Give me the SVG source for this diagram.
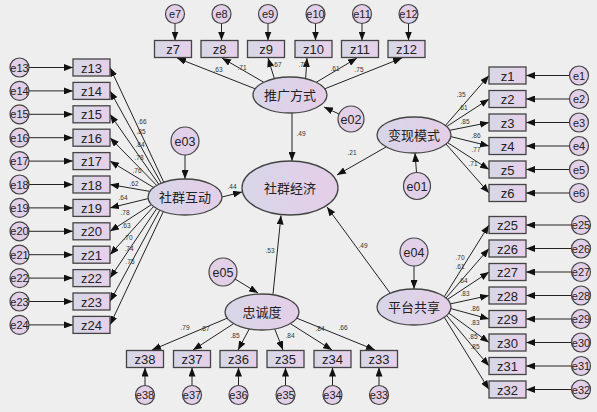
<svg xmlns="http://www.w3.org/2000/svg" width="597" height="412" viewBox="0 0 597 412">
<defs>
<linearGradient id="g" x1="0" y1="0" x2="1" y2="0">
<stop offset="0" stop-color="#d6d8e6"/>
<stop offset="1" stop-color="#e6d0ea"/>
</linearGradient>
<linearGradient id="ge" x1="0" y1="0" x2="1" y2="0">
<stop offset="0" stop-color="#d8d6e8"/>
<stop offset="1" stop-color="#e4cee8"/>
</linearGradient>
<marker id="a" markerUnits="userSpaceOnUse" markerWidth="9" markerHeight="7" refX="9" refY="3.5" orient="auto">
<path d="M0,0 L9,3.5 L0,7 z" fill="#111"/>
</marker>
</defs>
<style>
.b{fill:url(#g);stroke:#444;stroke-width:1.3}
.l{fill:url(#ge);stroke:#444;stroke-width:1.3}
.e{fill:#e2d0e8;stroke:#444;stroke-width:1.2}
.c line{stroke:#222;stroke-width:1;marker-end:url(#a)}
.t{font-family:"Liberation Sans",Arial,sans-serif;font-size:13px;fill:#222;text-anchor:middle}
.et{font-family:"Liberation Sans",Arial,sans-serif;font-size:11px;fill:#222;text-anchor:middle}
.lt{font-family:"Noto Sans CJK SC","Noto Sans",sans-serif;font-size:13px;fill:#222;text-anchor:middle}
.w{font-family:"Liberation Sans",Arial,sans-serif;font-size:6.5px;fill:#333;text-anchor:middle}
</style>
<rect x="0" y="0" width="597" height="412" fill="#eeeeee"/>

<g id="connectors" class="c">
<!-- top -->
<line x1="175" y1="23.5" x2="175" y2="40.5"/>
<line x1="221.5" y1="23.5" x2="221.5" y2="40.5"/>
<line x1="268" y1="23.5" x2="268" y2="40.5"/>
<line x1="315.5" y1="23.5" x2="315.5" y2="40.5"/>
<line x1="362" y1="23.5" x2="362" y2="40.5"/>
<line x1="408.5" y1="23.5" x2="408.5" y2="40.5"/>
<line x1="255.2" y1="88.8" x2="177" y2="58"/>
<line x1="263.8" y1="82.3" x2="222" y2="58"/>
<line x1="274.4" y1="78.7" x2="268" y2="58"/>
<line x1="305.6" y1="78.7" x2="307" y2="58"/>
<line x1="316.2" y1="82.3" x2="357" y2="58"/>
<line x1="324.8" y1="88.8" x2="402" y2="58"/>
<!-- left -->
<line x1="29" y1="67.5" x2="73" y2="67.5"/>
<line x1="29" y1="90.9" x2="73" y2="90.9"/>
<line x1="29" y1="114.3" x2="73" y2="114.3"/>
<line x1="29" y1="137.7" x2="73" y2="137.7"/>
<line x1="29" y1="161.1" x2="73" y2="161.1"/>
<line x1="29" y1="184.5" x2="73" y2="184.5"/>
<line x1="29" y1="207.9" x2="73" y2="207.9"/>
<line x1="29" y1="231.3" x2="73" y2="231.3"/>
<line x1="29" y1="254.7" x2="73" y2="254.7"/>
<line x1="29" y1="278.1" x2="73" y2="278.1"/>
<line x1="29" y1="301.5" x2="73" y2="301.5"/>
<line x1="29" y1="324.9" x2="73" y2="324.9"/>
<line x1="163.8" y1="182.3" x2="110" y2="67.5"/>
<line x1="161.2" y1="183.2" x2="110" y2="90.9"/>
<line x1="158.8" y1="184.3" x2="110" y2="114.3"/>
<line x1="156.7" y1="185.4" x2="110" y2="137.7"/>
<line x1="153.6" y1="187.5" x2="110" y2="161.1"/>
<line x1="149.8" y1="191.4" x2="110" y2="184.5"/>
<line x1="148.1" y1="198.6" x2="110" y2="207.9"/>
<line x1="151.5" y1="204.6" x2="110" y2="231.3"/>
<line x1="153.6" y1="206.5" x2="110" y2="254.7"/>
<line x1="156.7" y1="208.6" x2="110" y2="278.1"/>
<line x1="159.8" y1="210.2" x2="110" y2="301.5"/>
<line x1="163.3" y1="211.6" x2="110" y2="324.9"/>
<!-- right top -->
<line x1="569.5" y1="75.5" x2="526" y2="75.5"/>
<line x1="569.5" y1="99" x2="526" y2="99"/>
<line x1="569.5" y1="122.5" x2="526" y2="122.5"/>
<line x1="569.5" y1="146" x2="526" y2="146"/>
<line x1="569.5" y1="169.5" x2="526" y2="169.5"/>
<line x1="569.5" y1="193" x2="526" y2="193"/>
<line x1="445.4" y1="125.5" x2="489" y2="75.5"/>
<line x1="446.7" y1="126.5" x2="489" y2="99"/>
<line x1="449.7" y1="130.3" x2="489" y2="122.5"/>
<line x1="450.9" y1="136.6" x2="489" y2="146"/>
<line x1="447.5" y1="142.6" x2="489" y2="169.5"/>
<line x1="446" y1="144" x2="489" y2="193"/>
<!-- right bottom -->
<line x1="571.5" y1="225" x2="526" y2="225"/>
<line x1="571.5" y1="248.5" x2="526" y2="248.5"/>
<line x1="571.5" y1="272" x2="526" y2="272"/>
<line x1="571.5" y1="295.5" x2="526" y2="295.5"/>
<line x1="571.5" y1="319" x2="526" y2="319"/>
<line x1="571.5" y1="342.5" x2="526" y2="342.5"/>
<line x1="571.5" y1="366" x2="526" y2="366"/>
<line x1="571.5" y1="389.5" x2="526" y2="389.5"/>
<line x1="444.3" y1="296.7" x2="489" y2="225"/>
<line x1="446" y1="298" x2="489" y2="248.5"/>
<line x1="447.5" y1="299.4" x2="489" y2="272"/>
<line x1="450.4" y1="303.9" x2="489" y2="295.5"/>
<line x1="450.9" y1="308.6" x2="489" y2="319"/>
<line x1="448.8" y1="313.2" x2="489" y2="342.5"/>
<line x1="446.7" y1="315.5" x2="489" y2="366"/>
<line x1="444.3" y1="317.3" x2="489" y2="389.5"/>
<!-- bottom -->
<line x1="145" y1="385.5" x2="145" y2="367.5"/>
<line x1="192" y1="385.5" x2="192" y2="367.5"/>
<line x1="238.5" y1="385.5" x2="238.5" y2="367.5"/>
<line x1="285.5" y1="385.5" x2="285.5" y2="367.5"/>
<line x1="332.5" y1="385.5" x2="332.5" y2="367.5"/>
<line x1="379" y1="385.5" x2="379" y2="367.5"/>
<line x1="227.2" y1="318.2" x2="152" y2="350"/>
<line x1="233.7" y1="323.6" x2="193" y2="350"/>
<line x1="249.3" y1="328.9" x2="238" y2="350"/>
<line x1="274.7" y1="328.9" x2="283" y2="350"/>
<line x1="290.3" y1="323.6" x2="332" y2="350"/>
<line x1="296.8" y1="318.2" x2="375" y2="350"/>
<!-- structural -->
<line x1="292" y1="113" x2="292" y2="161"/>
<line x1="222" y1="197" x2="242" y2="192"/>
<line x1="386" y1="147" x2="337" y2="175"/>
<line x1="390" y1="293" x2="327" y2="207"/>
<line x1="273" y1="294" x2="281" y2="215.5"/>
<line x1="339" y1="114" x2="324" y2="107"/>
<line x1="185" y1="155" x2="185" y2="179"/>
<line x1="416.5" y1="172.5" x2="415" y2="153"/>
<line x1="414" y1="266" x2="414" y2="289"/>
<line x1="235" y1="279" x2="258" y2="293"/>
</g>

<g id="weights">
<text class="w" x="218" y="72">.63</text>
<text class="w" x="242" y="70">.71</text>
<text class="w" x="277" y="67">.67</text>
<text class="w" x="303" y="67">.75</text>
<text class="w" x="335" y="71">.61</text>
<text class="w" x="359" y="72">.75</text>
<text class="w" x="142" y="124">.66</text>
<text class="w" x="141" y="134">.85</text>
<text class="w" x="140" y="147">.84</text>
<text class="w" x="139" y="160">.78</text>
<text class="w" x="137" y="173">.76</text>
<text class="w" x="134" y="186">.62</text>
<text class="w" x="123" y="200">.64</text>
<text class="w" x="125" y="215">.78</text>
<text class="w" x="126" y="228">.63</text>
<text class="w" x="128" y="240">.70</text>
<text class="w" x="129" y="251">.74</text>
<text class="w" x="130" y="264">.75</text>
<text class="w" x="461" y="97">.35</text>
<text class="w" x="463" y="110">.61</text>
<text class="w" x="465" y="124">.85</text>
<text class="w" x="476" y="138">.86</text>
<text class="w" x="476" y="152">.77</text>
<text class="w" x="473" y="166">.71</text>
<text class="w" x="460" y="260">.70</text>
<text class="w" x="460" y="269">.61</text>
<text class="w" x="463" y="283">.64</text>
<text class="w" x="465" y="296">.83</text>
<text class="w" x="475" y="311">.86</text>
<text class="w" x="475" y="325">.83</text>
<text class="w" x="473" y="339">.85</text>
<text class="w" x="475" y="349">.85</text>
<text class="w" x="185" y="330">.79</text>
<text class="w" x="205" y="331">.87</text>
<text class="w" x="235" y="338">.85</text>
<text class="w" x="290" y="338">.84</text>
<text class="w" x="320" y="331">.84</text>
<text class="w" x="343" y="330">.66</text>
<text class="w" x="301" y="136">.49</text>
<text class="w" x="232" y="189">.44</text>
<text class="w" x="352" y="155">.21</text>
<text class="w" x="363" y="248">.49</text>
<text class="w" x="270" y="253">.53</text>
</g>

<g id="top-errors">
<g id="e7"><circle class="e" cx="175" cy="14" r="9.5"/><text class="et" x="175" y="18">e7</text></g>
<g id="e8"><circle class="e" cx="221.5" cy="14" r="9.5"/><text class="et" x="221.5" y="18">e8</text></g>
<g id="e9"><circle class="e" cx="268" cy="14" r="9.5"/><text class="et" x="268" y="18">e9</text></g>
<g id="e10"><circle class="e" cx="315.5" cy="14" r="9.5"/><text class="et" x="315.5" y="18">e10</text></g>
<g id="e11"><circle class="e" cx="362" cy="14" r="9.5"/><text class="et" x="362" y="18">e11</text></g>
<g id="e12"><circle class="e" cx="408.5" cy="14" r="9.5"/><text class="et" x="408.5" y="18">e12</text></g>
</g>
<g id="top-boxes">
<g id="z7"><rect class="b" x="154.5" y="40.5" width="37" height="17"/><text class="t" x="173" y="54">z7</text></g>
<g id="z8"><rect class="b" x="201" y="40.5" width="37" height="17"/><text class="t" x="219.5" y="54">z8</text></g>
<g id="z9"><rect class="b" x="247.5" y="40.5" width="37" height="17"/><text class="t" x="266" y="54">z9</text></g>
<g id="z10"><rect class="b" x="295" y="40.5" width="37" height="17"/><text class="t" x="313.5" y="54">z10</text></g>
<g id="z11"><rect class="b" x="341.5" y="40.5" width="37" height="17"/><text class="t" x="360" y="54">z11</text></g>
<g id="z12"><rect class="b" x="388" y="40.5" width="37" height="17"/><text class="t" x="406.5" y="54">z12</text></g>
</g>

<g id="left-errors">
<g id="e13"><circle class="e" cx="19.5" cy="67.5" r="9.5"/><text class="et" x="19.5" y="71.5">e13</text></g>
<g id="e14"><circle class="e" cx="19.5" cy="90.9" r="9.5"/><text class="et" x="19.5" y="94.9">e14</text></g>
<g id="e15"><circle class="e" cx="19.5" cy="114.3" r="9.5"/><text class="et" x="19.5" y="118.3">e15</text></g>
<g id="e16"><circle class="e" cx="19.5" cy="137.7" r="9.5"/><text class="et" x="19.5" y="141.7">e16</text></g>
<g id="e17"><circle class="e" cx="19.5" cy="161.1" r="9.5"/><text class="et" x="19.5" y="165.1">e17</text></g>
<g id="e18"><circle class="e" cx="19.5" cy="184.5" r="9.5"/><text class="et" x="19.5" y="188.5">e18</text></g>
<g id="e19"><circle class="e" cx="19.5" cy="207.9" r="9.5"/><text class="et" x="19.5" y="211.9">e19</text></g>
<g id="e20"><circle class="e" cx="19.5" cy="231.3" r="9.5"/><text class="et" x="19.5" y="235.3">e20</text></g>
<g id="e21"><circle class="e" cx="19.5" cy="254.7" r="9.5"/><text class="et" x="19.5" y="258.7">e21</text></g>
<g id="e22"><circle class="e" cx="19.5" cy="278.1" r="9.5"/><text class="et" x="19.5" y="282.1">e22</text></g>
<g id="e23"><circle class="e" cx="19.5" cy="301.5" r="9.5"/><text class="et" x="19.5" y="305.5">e23</text></g>
<g id="e24"><circle class="e" cx="19.5" cy="324.9" r="9.5"/><text class="et" x="19.5" y="328.9">e24</text></g>
</g>
<g id="left-boxes">
<g id="z13"><rect class="b" x="73" y="59" width="37" height="17"/><text class="t" x="91.5" y="72.5">z13</text></g>
<g id="z14"><rect class="b" x="73" y="82.4" width="37" height="17"/><text class="t" x="91.5" y="95.9">z14</text></g>
<g id="z15"><rect class="b" x="73" y="105.8" width="37" height="17"/><text class="t" x="91.5" y="119.3">z15</text></g>
<g id="z16"><rect class="b" x="73" y="129.2" width="37" height="17"/><text class="t" x="91.5" y="142.7">z16</text></g>
<g id="z17"><rect class="b" x="73" y="152.6" width="37" height="17"/><text class="t" x="91.5" y="166.1">z17</text></g>
<g id="z18"><rect class="b" x="73" y="176" width="37" height="17"/><text class="t" x="91.5" y="189.5">z18</text></g>
<g id="z19"><rect class="b" x="73" y="199.4" width="37" height="17"/><text class="t" x="91.5" y="212.9">z19</text></g>
<g id="z20"><rect class="b" x="73" y="222.8" width="37" height="17"/><text class="t" x="91.5" y="236.3">z20</text></g>
<g id="z21"><rect class="b" x="73" y="246.2" width="37" height="17"/><text class="t" x="91.5" y="259.7">z21</text></g>
<g id="z22"><rect class="b" x="73" y="269.6" width="37" height="17"/><text class="t" x="91.5" y="283.1">z22</text></g>
<g id="z23"><rect class="b" x="73" y="293" width="37" height="17"/><text class="t" x="91.5" y="306.5">z23</text></g>
<g id="z24"><rect class="b" x="73" y="316.4" width="37" height="17"/><text class="t" x="91.5" y="329.9">z24</text></g>
</g>

<g id="right-top-boxes">
<g id="z1"><rect class="b" x="489" y="67" width="37" height="17"/><text class="t" x="507.5" y="80.5">z1</text></g>
<g id="z2"><rect class="b" x="489" y="90.5" width="37" height="17"/><text class="t" x="507.5" y="104">z2</text></g>
<g id="z3"><rect class="b" x="489" y="114" width="37" height="17"/><text class="t" x="507.5" y="127.5">z3</text></g>
<g id="z4"><rect class="b" x="489" y="137.5" width="37" height="17"/><text class="t" x="507.5" y="151">z4</text></g>
<g id="z5"><rect class="b" x="489" y="161" width="37" height="17"/><text class="t" x="507.5" y="174.5">z5</text></g>
<g id="z6"><rect class="b" x="489" y="184.5" width="37" height="17"/><text class="t" x="507.5" y="198">z6</text></g>
</g>
<g id="right-top-errors">
<g id="e1"><circle class="e" cx="579" cy="75.5" r="9.5"/><text class="et" x="579" y="79.5">e1</text></g>
<g id="e2"><circle class="e" cx="579" cy="99" r="9.5"/><text class="et" x="579" y="103">e2</text></g>
<g id="e3"><circle class="e" cx="579" cy="122.5" r="9.5"/><text class="et" x="579" y="126.5">e3</text></g>
<g id="e4"><circle class="e" cx="579" cy="146" r="9.5"/><text class="et" x="579" y="150">e4</text></g>
<g id="e5"><circle class="e" cx="579" cy="169.5" r="9.5"/><text class="et" x="579" y="173.5">e5</text></g>
<g id="e6"><circle class="e" cx="579" cy="193" r="9.5"/><text class="et" x="579" y="197">e6</text></g>
</g>

<g id="right-bottom-boxes">
<g id="z25"><rect class="b" x="489" y="216.5" width="37" height="17"/><text class="t" x="507.5" y="230">z25</text></g>
<g id="z26"><rect class="b" x="489" y="240" width="37" height="17"/><text class="t" x="507.5" y="253.5">z26</text></g>
<g id="z27"><rect class="b" x="489" y="263.5" width="37" height="17"/><text class="t" x="507.5" y="277">z27</text></g>
<g id="z28"><rect class="b" x="489" y="287" width="37" height="17"/><text class="t" x="507.5" y="300.5">z28</text></g>
<g id="z29"><rect class="b" x="489" y="310.5" width="37" height="17"/><text class="t" x="507.5" y="324">z29</text></g>
<g id="z30"><rect class="b" x="489" y="334" width="37" height="17"/><text class="t" x="507.5" y="347.5">z30</text></g>
<g id="z31"><rect class="b" x="489" y="357.5" width="37" height="17"/><text class="t" x="507.5" y="371">z31</text></g>
<g id="z32"><rect class="b" x="489" y="381" width="37" height="17"/><text class="t" x="507.5" y="394.5">z32</text></g>
</g>
<g id="right-bottom-errors">
<g id="e25"><circle class="e" cx="581" cy="225" r="9.5"/><text class="et" x="581" y="229">e25</text></g>
<g id="e26"><circle class="e" cx="581" cy="248.5" r="9.5"/><text class="et" x="581" y="252.5">e26</text></g>
<g id="e27"><circle class="e" cx="581" cy="272" r="9.5"/><text class="et" x="581" y="276">e27</text></g>
<g id="e28"><circle class="e" cx="581" cy="295.5" r="9.5"/><text class="et" x="581" y="299.5">e28</text></g>
<g id="e29"><circle class="e" cx="581" cy="319" r="9.5"/><text class="et" x="581" y="323">e29</text></g>
<g id="e30"><circle class="e" cx="581" cy="342.5" r="9.5"/><text class="et" x="581" y="346.5">e30</text></g>
<g id="e31"><circle class="e" cx="581" cy="366" r="9.5"/><text class="et" x="581" y="370">e31</text></g>
<g id="e32"><circle class="e" cx="581" cy="389.5" r="9.5"/><text class="et" x="581" y="393.5">e32</text></g>
</g>

<g id="bottom-boxes">
<g id="z38"><rect class="b" x="126.5" y="350.5" width="37" height="17"/><text class="t" x="145" y="364">z38</text></g>
<g id="z37"><rect class="b" x="173.5" y="350.5" width="37" height="17"/><text class="t" x="192" y="364">z37</text></g>
<g id="z36"><rect class="b" x="220" y="350.5" width="37" height="17"/><text class="t" x="238.5" y="364">z36</text></g>
<g id="z35"><rect class="b" x="267" y="350.5" width="37" height="17"/><text class="t" x="285.5" y="364">z35</text></g>
<g id="z34"><rect class="b" x="314" y="350.5" width="37" height="17"/><text class="t" x="332.5" y="364">z34</text></g>
<g id="z33"><rect class="b" x="360.5" y="350.5" width="37" height="17"/><text class="t" x="379" y="364">z33</text></g>
</g>
<g id="bottom-errors">
<g id="e38"><circle class="e" cx="145" cy="395" r="9.5"/><text class="et" x="145" y="399">e38</text></g>
<g id="e37"><circle class="e" cx="192" cy="395" r="9.5"/><text class="et" x="192" y="399">e37</text></g>
<g id="e36"><circle class="e" cx="238.5" cy="395" r="9.5"/><text class="et" x="238.5" y="399">e36</text></g>
<g id="e35"><circle class="e" cx="285.5" cy="395" r="9.5"/><text class="et" x="285.5" y="399">e35</text></g>
<g id="e34"><circle class="e" cx="332.5" cy="395" r="9.5"/><text class="et" x="332.5" y="399">e34</text></g>
<g id="e33"><circle class="e" cx="379" cy="395" r="9.5"/><text class="et" x="379" y="399">e33</text></g>
</g>

<g id="latent">
<g id="tuiguang"><ellipse class="l" cx="290" cy="95" rx="37" ry="18"/><text class="lt" x="290" y="100">推广方式</text></g>
<g id="shequnhudong"><ellipse class="l" cx="185" cy="197" rx="37" ry="18"/><text class="lt" x="185" y="202">社群互动</text></g>
<g id="shequnjingji"><ellipse class="l" cx="290" cy="188" rx="48" ry="27"/><text class="lt" x="290" y="193">社群经济</text></g>
<g id="bianxian"><ellipse class="l" cx="414" cy="135" rx="37" ry="18"/><text class="lt" x="414" y="140">变现模式</text></g>
<g id="pingtai"><ellipse class="l" cx="414" cy="307" rx="37" ry="18"/><text class="lt" x="414" y="312">平台共享</text></g>
<g id="zhongcheng"><ellipse class="l" cx="262" cy="312" rx="37" ry="18"/><text class="lt" x="262" y="317">忠诚度</text></g>
</g>
<g id="residuals">
<g id="e02"><circle class="e" cx="351" cy="119" r="13"/><text class="et" x="351" y="123.5" style="font-size:12.5px">e02</text></g>
<g id="e03"><circle class="e" cx="185" cy="141" r="14"/><text class="et" x="185" y="145.5" style="font-size:12.5px">e03</text></g>
<g id="e01"><circle class="e" cx="417" cy="186" r="13.5"/><text class="et" x="417" y="190.5" style="font-size:12.5px">e01</text></g>
<g id="e04"><circle class="e" cx="414" cy="252" r="14"/><text class="et" x="414" y="256.5" style="font-size:12.5px">e04</text></g>
<g id="e05"><circle class="e" cx="223" cy="272" r="14"/><text class="et" x="223" y="276.5" style="font-size:12.5px">e05</text></g>
</g>
</svg>
